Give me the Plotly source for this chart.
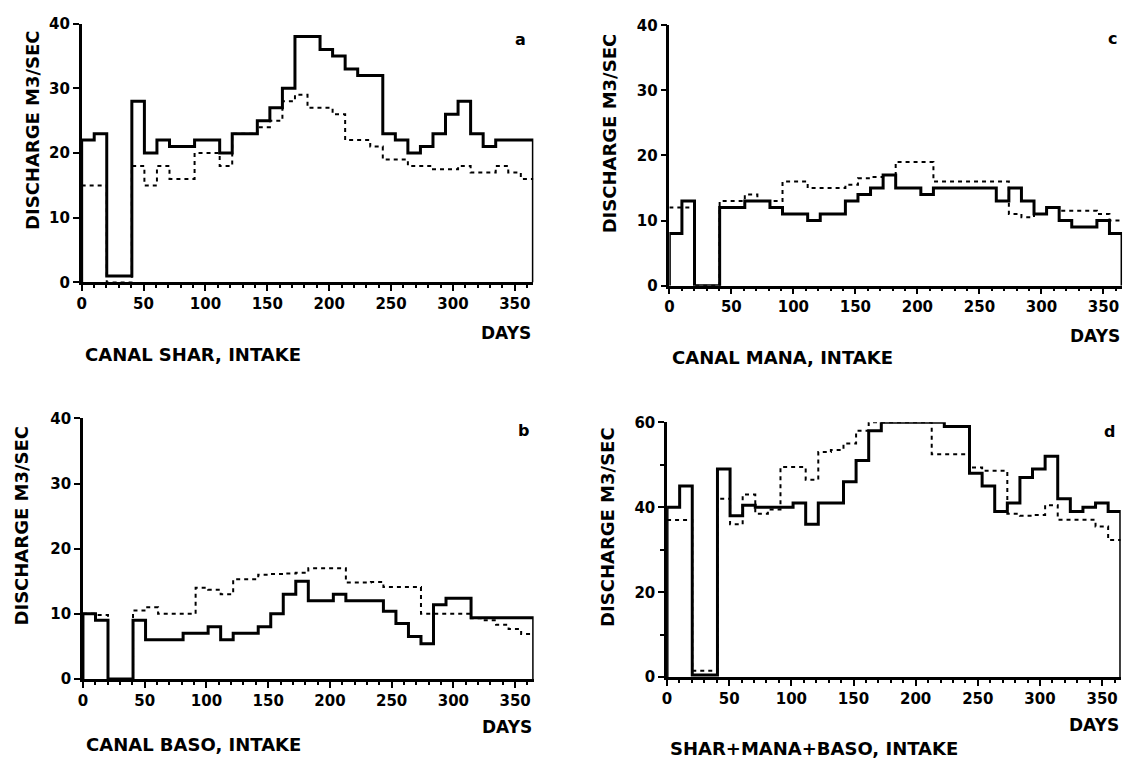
import plotly.graph_objects as go

# Ten-day periods (decades) over the year
n_dec = 36
year_days = 365
edges = [i * year_days / n_dec for i in range(n_dec + 1)]

# Canal Shar intake (panel a)
shar_solid = [22, 23, 1, 1, 28, 20, 22, 21, 21, 22, 22, 20, 23, 23, 25, 27, 30, 38,
              38, 36, 35, 33, 32, 32, 23, 22, 20, 21, 23, 26, 28, 23, 21, 22, 22, 22]
shar_dotted = [15, 15, 0, 0, 18, 15, 18, 16, 16, 20, 20, 18, 23, 23, 24, 25, 28, 29,
               27, 27, 26, 22, 22, 21, 19, 19, 18, 18, 17.5, 17.5, 18, 17, 17, 18, 17, 16]

# Canal Mana intake (panel c)
mana_solid = [8, 13, 0, 0, 12, 12, 13, 13, 12, 11, 11, 10, 11, 11, 13, 14, 15, 17,
              15, 15, 14, 15, 15, 15, 15, 15, 13, 15, 13, 11, 12, 10, 9, 9, 10, 8]
mana_dotted = [12, 12, 0, 0, 13, 13, 14, 13, 13, 16, 16, 15, 15, 15, 15.5, 16.5, 16.7, 17,
               19, 19, 19, 16, 16, 16, 16, 16, 16, 11, 10.5, 11, 12, 11.5, 11.5, 11.5, 11, 10]

# Canal Baso intake (panel b)
baso_solid = [10, 9, 0, 0, 9, 6, 6, 6, 7, 7, 8, 6, 7, 7, 8, 10, 13, 15,
              12, 12, 13, 12, 12, 12, 10.4, 8.5, 6.5, 5.4, 11.4, 12.4, 12.4, 9.4, 9.4, 9.4, 9.4, 9.4]
baso_dotted = [10, 9.8, 0, 0, 10.5, 11, 10, 10, 10, 14, 13.7, 13, 15.3, 15.3, 16, 16.1, 16.2, 16.3,
               17, 17, 17, 14.8, 14.8, 14.9, 14.1, 14.1, 14.1, 10, 10, 10, 10, 9.3, 9, 8.3, 7.65, 6.9]

# Total Shar+Mana+Baso intake (panel d)
total_solid = [40, 45, 0.5, 0.5, 49, 38, 40.5, 40, 40, 40, 41, 36, 41, 41, 46, 51, 58, 60,
               60, 60, 60, 60, 59, 59, 48, 45, 39, 41, 47, 49, 52, 42, 39, 40, 41, 39]
total_dotted = [37, 37, 1.5, 1.5, 42, 36, 43, 38.5, 39.5, 49.5, 49.5, 46.5, 53, 53.5, 55, 58, 60, 60,
                60, 60, 60, 52.5, 52.5, 52.5, 49.4, 48.6, 48.6, 38.5, 38, 38.2, 40.5, 37.1, 37.1, 37.1, 35.5, 32.3]

x_ticks = [0, 50, 100, 150, 200, 250, 300, 350]
captions = ["CANAL SHAR, INTAKE", "CANAL MANA, INTAKE", "CANAL BASO, INTAKE", "SHAR+MANA+BASO, INTAKE"]
letters = ["a", "c", "b", "d"]
y_title = "DISCHARGE M3/SEC"

W, H = 1130, 767
FONT = "DejaVu Sans"

# pixel boxes of each plot: (left, right, top, bottom)
boxes = [
    (77, 530.7, 15, 280),
    (667.3, 1122, 16.7, 283.3),
    (78.3, 531, 419.3, 686),
    (665, 1120.7, 423.3, 684.3),
]
y_max = [40, 40, 40, 60]
y_dtick = [10, 10, 10, 20]
series = [
    (shar_solid, shar_dotted),
    (mana_solid, mana_dotted),
    (baso_solid, baso_dotted),
    (total_solid, total_dotted),
]


def px(x):
    return x / W


def py(y):
    return 1 - y / H


fig = go.Figure()
layout = {}
annotations = []

for k, ((solid, dotted), (l, r, t, b)) in enumerate(zip(series, boxes)):
    sfx = "" if k == 0 else str(k + 1)
    xa, ya = "x" + sfx, "y" + sfx

    # step outline: rises from zero at day 0, falls back to zero at day 365
    xs = [0] + edges + [year_days]
    ys = [0] + solid + [solid[-1], 0]
    fig.add_trace(go.Scatter(x=xs, y=ys, mode="lines", line_shape="hv",
                             line=dict(color="black", width=3),
                             xaxis=xa, yaxis=ya, showlegend=False, hoverinfo="skip"))
    xd = edges
    yd = dotted + [dotted[-1]]
    fig.add_trace(go.Scatter(x=xd, y=yd, mode="lines", line_shape="hv",
                             line=dict(color="black", width=2, dash="4px,4px"),
                             xaxis=xa, yaxis=ya, showlegend=False, hoverinfo="skip"))

    tickfont = dict(family=FONT, size=15, color="black", weight="bold")
    layout["xaxis" + sfx] = dict(
        domain=[px(l), px(r)], anchor=ya, range=[0, year_days],
        tickvals=x_ticks, ticktext=[str(v) for v in x_ticks],
        ticks="outside", ticklen=6, tickwidth=2, tickcolor="black",
        minor=dict(dtick=10, tick0=0, ticks="outside", ticklen=3, tickwidth=1.5, tickcolor="black"),
        showline=True, linecolor="black", linewidth=2.5, showgrid=False, zeroline=False,
        tickfont=tickfont, fixedrange=True,
    )
    layout["yaxis" + sfx] = dict(
        domain=[py(b), py(t)], anchor=xa, range=[0, y_max[k]],
        dtick=y_dtick[k], tick0=0,
        ticks="outside", ticklen=6, tickwidth=2, tickcolor="black",
        minor=dict(dtick=10, tick0=0, ticks="outside", ticklen=4, tickwidth=1.5, tickcolor="black"),
        showline=True, linecolor="black", linewidth=2.5, showgrid=False, zeroline=False,
        tickfont=tickfont, fixedrange=True,
    )

    # captions and "DAYS" labels under each plot
    top_row = k < 2
    days_y = b + (52 if top_row else 49)
    cap_y = b + (74 if top_row else (67 if k == 2 else 73))
    annotations.append(dict(x=px(r), y=py(days_y), xref="paper", yref="paper",
                            text="DAYS", showarrow=False, xanchor="right", yanchor="middle",
                            font=dict(family=FONT, size=17, color="black", weight="bold")))
    annotations.append(dict(x=px(l + 1), y=py(cap_y), xref="paper", yref="paper",
                            text=captions[k], showarrow=False, xanchor="left", yanchor="middle",
                            font=dict(family=FONT, size=18, color="black", weight="bold")))

letter_pos = [(518, 31), (1112, 30), (521, 432), (1109, 433)]
for (lx, ly), letter in zip(letter_pos, letters):
    annotations.append(dict(x=px(lx), y=py(ly), xref="paper", yref="paper",
                            text=letter, showarrow=False, xanchor="center", yanchor="middle",
                            font=dict(family=FONT, size=16, color="black", weight="bold")))

title_pos = [(27, 124), (607, 127), (17, 529), (605, 530)]
for tx, ty in title_pos:
    annotations.append(dict(x=px(tx), y=py(ty), xref="paper", yref="paper",
                            text=y_title, showarrow=False, textangle=-90,
                            xanchor="center", yanchor="middle",
                            font=dict(family=FONT, size=18, color="black", weight="bold")))

fig.update_layout(
    width=W, height=H, autosize=False,
    margin=dict(l=0, r=0, t=0, b=0),
    paper_bgcolor="white", plot_bgcolor="white",
    annotations=annotations,
    **layout,
)

fig.write_html("out.html")
